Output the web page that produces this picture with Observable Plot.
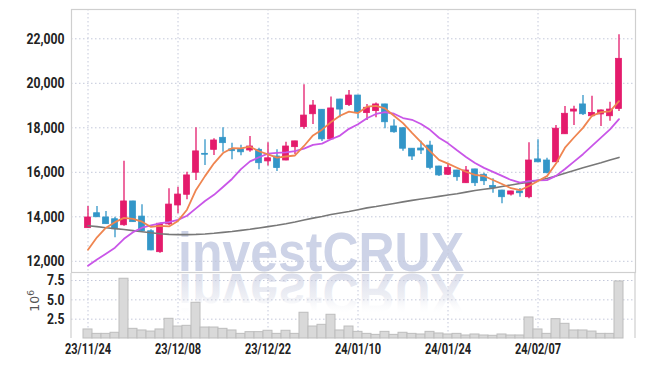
<!DOCTYPE html>
<html><head><meta charset="utf-8">
<script src="https://cdn.jsdelivr.net/npm/d3@7"></script>
<script src="https://cdn.jsdelivr.net/npm/@observablehq/plot@0.6"></script>
<style>
html,body{margin:0;padding:0;background:#fff;}
#chart{position:relative;width:645px;height:366px;overflow:hidden;}
#chart svg{display:block;}
</style></head><body><div id="chart"></div>
<script>
const dates = ["23/11/24","23/11/27","23/11/28","23/11/29","23/11/30","23/12/01","23/12/04","23/12/05","23/12/06","23/12/07",
"23/12/08","23/12/11","23/12/12","23/12/13","23/12/14","23/12/15","23/12/18","23/12/19","23/12/20","23/12/21",
"23/12/22","23/12/26","23/12/27","23/12/28","24/01/02","24/01/03","24/01/04","24/01/05","24/01/08","24/01/09",
"24/01/10","24/01/11","24/01/12","24/01/15","24/01/16","24/01/17","24/01/18","24/01/19","24/01/22","24/01/23",
"24/01/24","24/01/25","24/01/26","24/01/29","24/01/30","24/01/31","24/02/01","24/02/02","24/02/05","24/02/06",
"24/02/07","24/02/08","24/02/13","24/02/14","24/02/15","24/02/16","24/02/19","24/02/20","24/02/21","24/02/22"];
const open = [13490,14160,13970,13890,13620,14690,14010,13350,12410,13660,
14510,14990,15980,16830,17010,17550,17030,17030,16980,17010,
16490,16710,16530,17130,18030,18610,18810,17480,19270,19020,
19450,18660,18750,19050,18060,17980,17060,17070,17200,16260,
15890,16080,15510,16130,15890,15390,15180,15000,15140,14880,
16580,16530,16450,17710,18730,19050,18520,18600,18520,18850];
const high = [14460,14460,14240,13980,16500,14700,14540,13420,13700,15260,
15330,16000,18000,17460,17510,18000,17310,17220,17610,17080,
17330,17010,17350,17400,19930,19230,18820,19380,19280,19680,
19460,19050,19110,19060,18360,18000,17060,17400,17400,16270,
16400,16090,16260,16140,15960,15710,15190,15150,15270,17330,
17460,16630,18100,18960,18970,19450,19420,18800,19150,22180];
const low = [13490,13970,13660,13060,13570,13750,13340,12480,12360,13610,
14140,14770,15630,16310,16760,16900,16560,16740,16900,16110,
16280,16040,16520,16800,17940,18150,17390,17450,18450,18960,
18410,18330,18450,17960,17760,16950,16530,16800,16110,15810,
15860,15600,15500,15360,15410,15060,14590,14930,14880,14810,
16430,15940,16440,17700,18100,18550,18500,18060,18300,18730];
const close = [13970,13980,13670,13440,14690,13760,13350,12490,13690,14550,
15000,15860,16940,16790,17430,17310,16950,16900,17160,16410,
16630,16190,17160,17390,18550,19000,17480,18870,18820,19450,
18700,18900,19050,18250,17800,17060,16710,16980,16200,15860,
16200,15780,16080,15510,15600,15300,14880,15140,15060,16530,
16450,15960,17960,18630,18820,18610,18670,18780,18820,21100];
const volume = [1.17,0.6,0.6,0.74,7.73,1.25,1.04,0.9,1.17,2.55,
1.55,1.64,4.62,1.42,1.42,1.25,1.04,0.6,0.82,0.82,
1.0,0.6,1.0,0.6,3.33,1.55,1.77,3.07,1.04,1.55,
0.86,0.6,0.47,0.86,0.47,0.74,0.6,0.52,0.86,0.65,
0.52,0.6,0.39,0.52,0.39,0.35,0.52,0.39,0.39,2.72,
1.17,0.6,2.5,1.9,1.04,1.04,0.9,0.6,0.6,7.38];
const ma5 = [12520,13080,13510,13760,13950,13908,13782,13546,13596,13568,
13816,14318,15208,15828,16404,16866,17084,17076,17150,16946,
16810,16658,16710,16756,17184,17658,17916,18258,18544,18724,
18664,18948,18984,18870,18540,18212,17774,17360,16950,16562,
16390,16204,16024,15886,15834,15654,15474,15286,15196,15382,
15612,15828,16392,17106,17564,17996,18538,18702,18740,19196];
const ma10 = [11800,12080,12340,12610,13010,13310,13510,13610,13710,13759,
13862,14050,14377,14712,14986,15341,15701,16142,16489,16675,
16838,16871,16893,16953,17065,17234,17287,17484,17650,17954,
18161,18432,18621,18707,18632,18438,18361,18172,17910,17551,
17301,16989,16692,16418,16198,16022,15839,15655,15541,15608,
15633,15651,15839,16151,16482,16813,17192,17556,17932,18389];
const ma20 = [13600,13560,13510,13470,13430,13380,13330,13280,13240,13210,
13200,13200,13210,13230,13260,13300,13340,13390,13440,13500,
13560,13620,13690,13770,13860,13940,14010,14100,14170,14240,
14320,14400,14460,14530,14600,14670,14740,14800,14860,14920,
14980,15040,15110,15180,15240,15290,15360,15430,15500,15560,
15640,15720,15830,15960,16080,16200,16320,16430,16550,16670];
const priceTicks = [12000,14000,16000,18000,20000,22000];
const volTicks = [2.5,5,7.5];
const dateTicks = ["23/11/24","23/12/08","23/12/22","24/01/10","24/01/24","24/02/07"];

const data = dates.map((d,i)=>({date:d, open:open[i], high:high[i], low:low[i], close:close[i],
  vol:volume[i], ma5:ma5[i], ma10:ma10[i], ma20:ma20[i]}));
const ups = data.filter(d=>d.close>=d.open);
const downs = data.filter(d=>d.close<d.open);

const FONT = 'Roboto,"Liberation Sans",sans-serif';
const UP="#e41b6c", DOWN="#3396c8", GRID="#c4c8da", FRAME="#cfcfcf";
const style = {fontFamily:FONT, fontSize:"15px", fontWeight:"bold", color:"#222", background:"transparent", overflow:"visible"};
const xBase = {type:"band", domain:dates, padding:0, align:0.5};

const main = Plot.plot({
  width:645, height:273, marginLeft:71, marginRight:10, marginTop:9, marginBottom:1,
  style,
  x:{...xBase, axis:null},
  y:{domain:[11497,23317], ticks:priceTicks, tickFormat:d3.format(","), tickSize:0, tickPadding:7, label:null},
  marks:[
    Plot.ruleY(priceTicks,{stroke:GRID, strokeDasharray:"1.5,2.5"}),
    Plot.ruleX(dateTicks,{x:d=>d, stroke:GRID, strokeDasharray:"1.5,2.5"}),
    Plot.ruleX(ups,{x:"date", y1:"low", y2:"high", stroke:UP, strokeWidth:1.3}),
    Plot.ruleX(downs,{x:"date", y1:"low", y2:"high", stroke:DOWN, strokeWidth:1.3}),
    Plot.barY(ups,{x:"date", y1:"open", y2:"close", fill:UP, stroke:UP, strokeWidth:0.8, insetLeft:1.6, insetRight:1.6}),
    Plot.barY(downs,{x:"date", y1:"open", y2:"close", fill:DOWN, stroke:DOWN, strokeWidth:0.8, insetLeft:1.6, insetRight:1.6}),
    Plot.lineY(data,{x:"date", y:"ma20", stroke:"#787878", strokeWidth:1.6}),
    Plot.lineY(data,{x:"date", y:"ma10", stroke:"#c956e8", strokeWidth:1.8}),
    Plot.lineY(data,{x:"date", y:"ma5", stroke:"#ef8550", strokeWidth:1.8}),
    Plot.frame({stroke:FRAME, strokeWidth:1.2})
  ]
});

const vol = Plot.plot({
  width:645, height:93, marginLeft:71, marginRight:10, marginTop:1, marginBottom:28,
  style,
  x:{...xBase, ticks:dateTicks, tickSize:0, tickPadding:5, label:null},
  y:{domain:[0,8.28], ticks:volTicks, tickFormat:d3.format(".1f"), tickSize:0, tickPadding:7, label:null},
  marks:[
    Plot.ruleY(volTicks,{stroke:GRID, strokeDasharray:"1.5,2.5"}),
    Plot.ruleX(dateTicks,{x:d=>d, stroke:GRID, strokeDasharray:"1.5,2.5"}),
    Plot.barY(data,{x:"date", y:"vol", fill:"#d9d9d9", stroke:"#bdbdbd", strokeWidth:1})
  ]
});

const root = document.getElementById("chart");
root.appendChild(main);
root.appendChild(vol);

// condense axis tick labels to mimic the narrow label face
const axisTexts = d3.selectAll("#chart svg g[aria-label*='axis'] text").nodes();
let wY = null, wX = null;
axisTexts.forEach(t=>{
  if (t.textContent === "22,000") wY = t.getComputedTextLength();
  if (t.textContent === "23/11/24") wX = t.getComputedTextLength();
});
const fY = wY ? 38 / wY : 0.82, fX = wX ? 46 / wX : 0.75;
axisTexts.forEach(t=>{
  const L = t.getComputedTextLength();
  if (!L) return;
  const f = t.textContent.includes("/") ? fX : fY;
  t.setAttribute("textLength", (L*f).toFixed(2));
  t.setAttribute("lengthAdjust","spacingAndGlyphs");
});

// watermark
const WMFONT = '"Liberation Sans","Arial","DejaVu Sans",sans-serif';
d3.select(main).insert("text", ":first-child")
  .attr("x",178).attr("y",271).attr("text-anchor","start")
  .attr("font-family",WMFONT).attr("font-weight","bold").attr("font-size",55)
  .attr("textLength",286).attr("lengthAdjust","spacingAndGlyphs")
  .attr("fill","#cdd3e7").text("investCRUX");

const sv = d3.select(vol);
const defs = sv.insert("defs", ":first-child");
const g = defs.append("linearGradient").attr("id","wmref").attr("gradientUnits","userSpaceOnUse")
  .attr("x1",0).attr("x2",0).attr("y1",-2).attr("y2",-42);
g.append("stop").attr("offset",0).attr("stop-color","#dcdfec").attr("stop-opacity",1);
g.append("stop").attr("offset",0.55).attr("stop-color","#e6e8f0").attr("stop-opacity",0.7);
g.append("stop").attr("offset",1).attr("stop-color","#ffffff").attr("stop-opacity",0);
sv.insert("g", "defs + *").attr("transform","scale(1,-1)")
  .append("text").attr("x",178).attr("y",-1).attr("text-anchor","start")
  .attr("font-family",WMFONT).attr("font-weight","bold").attr("font-size",55)
  .attr("textLength",286).attr("lengthAdjust","spacingAndGlyphs")
  .attr("fill","url(#wmref)").text("investCRUX");

// side borders of volume panel
[71,635].forEach(x=>{
  sv.append("line").attr("x1",x).attr("x2",x).attr("y1",0).attr("y2",65)
    .attr("stroke",FRAME).attr("stroke-width",1.2);
});

// unit label
const ul = sv.append("text").attr("transform","translate(38.5,38.7) rotate(-90)")
  .attr("text-anchor","start")
  .attr("font-family",'"DejaVu Sans","Liberation Sans",sans-serif').attr("font-weight","normal")
  .attr("font-size",12.5).attr("fill","#555");
ul.append("tspan").text("10");
ul.append("tspan").attr("dy",-5).attr("font-size",9).text("6");
</script>
</body></html>
